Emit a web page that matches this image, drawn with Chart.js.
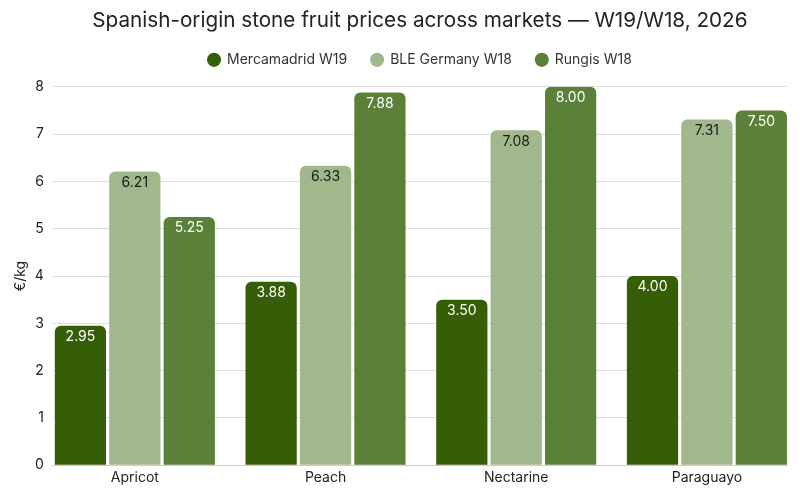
<!DOCTYPE html>
<html>
<head>
<meta charset="utf-8">
<script src="https://cdn.jsdelivr.net/npm/chart.js@4"></script>
<style>
  html, body { margin: 0; padding: 0; background: #fff; }
  #wrap { width: 800px; height: 500px; }
</style>
</head>
<body>
<div id="wrap"><canvas id="chart"></canvas></div>
<script>
const categories = ['Apricot', 'Peach', 'Nectarine', 'Paraguayo'];
const mercamadridW19 = [2.95, 3.88, 3.50, 4.00];
const bleGermanyW18 = [6.21, 6.33, 7.08, 7.31];
const rungisW18 = [5.25, 7.88, 8.00, 7.50];
const yTicks = [0, 1, 2, 3, 4, 5, 6, 7, 8];

const FONT = 'Inter, "Noto Sans", sans-serif';

// category index -> {x, y} so the x axis can be a linear one
const toPoints = (values) => values.map((v, i) => ({ x: i, y: v }));

// writes the value just under the top of each bar
const barLabels = {
    id: 'barLabels',
    afterDatasetsDraw(chart) {
        const ctx = chart.ctx;
        ctx.save();
        ctx.font = '14px ' + FONT;
        ctx.textAlign = 'center';
        ctx.textBaseline = 'top';
        chart.data.datasets.forEach((ds, i) => {
            const meta = chart.getDatasetMeta(i);
            meta.data.forEach((bar, j) => {
                ctx.fillStyle = ds.labelColor;
                ctx.fillText(ds.data[j].y.toFixed(2), bar.x, bar.y + 4);
            });
        });
        ctx.restore();
    }
};

// extra room between the legend and the plot
const legendGap = {
    id: 'legendGap',
    beforeLayout(chart) {
        const legend = chart.legend;
        if (!legend || legend._gapDone) return;
        const fit = legend.fit;
        legend.fit = function () {
            fit.call(this);
            this.height += 10;
        };
        legend._gapDone = true;
    }
};

const ctx = document.getElementById('chart');
const chart = new Chart(ctx, {
    type: 'bar',
    data: {
        datasets: [
            {
                label: 'Mercamadrid W19',
                data: toPoints(mercamadridW19),
                backgroundColor: '#355e06',
                labelColor: '#ffffff'
            },
            {
                label: 'BLE Germany W18',
                data: toPoints(bleGermanyW18),
                backgroundColor: '#a1b78c',
                labelColor: '#1a1a1a'
            },
            {
                label: 'Rungis W18',
                data: toPoints(rungisW18),
                backgroundColor: '#5b8038',
                labelColor: '#ffffff'
            }
        ]
    },
    options: {
        responsive: true,
        maintainAspectRatio: false,
        animation: false,
        layout: { padding: { left: 12, right: 13, top: 4, bottom: 10 } },
        datasets: {
            bar: {
                categoryPercentage: 0.856,
                barPercentage: 0.942,
                borderRadius: { topLeft: 6, topRight: 6 },
                borderSkipped: 'bottom'
            }
        },
        plugins: {
            title: {
                display: true,
                fullSize: false,
                text: 'Spanish-origin stone fruit prices across markets \u2014 W19/W18, 2026',
                color: '#222',
                font: { family: FONT, size: 20.7, weight: 'normal' },
                padding: { top: 4, bottom: -4 }
            },
            legend: {
                fullSize: false,
                labels: {
                    usePointStyle: true,
                    pointStyle: 'circle',
                    boxWidth: 12,
                    boxHeight: 10,
                    padding: 24,
                    color: '#333',
                    font: { family: FONT, size: 14 }
                }
            },
            tooltip: { enabled: false }
        },
        scales: {
            x: {
                type: 'linear',
                min: -0.43,
                max: 3.42,
                offset: false,
                afterBuildTicks: (axis) => { axis.ticks = categories.map((c, i) => ({ value: i })); },
                grid: { display: false, drawTicks: false, tickLength: 0 },
                border: { color: '#ccc' },
                ticks: {
                    autoSkip: false,
                    maxRotation: 0,
                    padding: 4,
                    color: '#222',
                    font: { family: FONT, size: 14 },
                    callback: (value) => categories[value]
                }
            },
            y: {
                min: 0,
                max: 8,
                afterBuildTicks: (axis) => { axis.ticks = yTicks.map(v => ({ value: v })); },
                grid: { color: '#dddddd', drawTicks: false },
                border: { display: false },
                ticks: { color: '#222', padding: 9, font: { family: FONT, size: 14 } },
                title: {
                    display: true,
                    text: '\u20ac/kg',
                    color: '#222',
                    padding: { top: 0, bottom: -3 },
                    font: { family: FONT, size: 14 }
                }
            }
        }
    },
    plugins: [barLabels, legendGap]
});
</script>
</body>
</html>
